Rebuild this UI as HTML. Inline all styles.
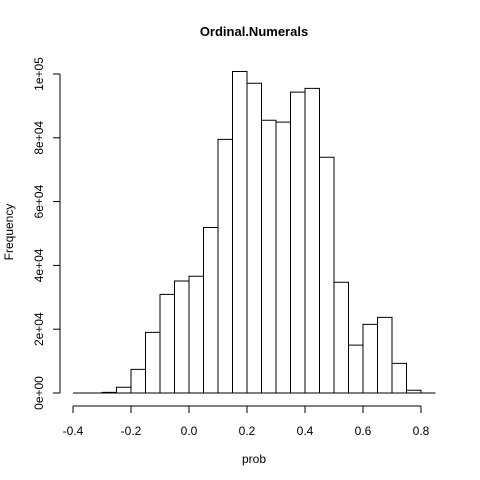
<!DOCTYPE html>
<html><head><meta charset="utf-8"><style>body{margin:0;background:#fff}svg{display:block;font-family:"Liberation Sans",sans-serif}</style></head>
<body>
<svg id="chart" width="480" height="480" viewBox="0 0 480 480">
<rect width="480" height="480" fill="#fff"/>
<text x="254" y="36" text-anchor="middle" font-weight="bold" font-size="13">Ordinal.Numerals</text>
<text x="254" y="463" text-anchor="middle" font-size="12">prob</text>
<text transform="translate(13,232) rotate(-90)" text-anchor="middle" font-size="12">Frequency</text>
<g id="bars"></g><g id="xaxis"></g><g id="yaxis"></g>
</svg>
<script>
const binStarts=[-0.40,-0.35,-0.30,-0.25,-0.20,-0.15,-0.10,-0.05,0.00,0.05,0.10,0.15,0.20,0.25,0.30,0.35,0.40,0.45,0.50,0.55,0.60,0.65,0.70,0.75,0.80];
const counts=[0,0,200,1800,7400,19000,30900,35100,36600,51900,79500,100800,97100,85500,84900,94300,95500,73900,34700,15000,21500,23700,9300,850,0];
const binWidth=0.05;
const xTicks=[-0.4,-0.2,0.0,0.2,0.4,0.6,0.8];
const xTickLabels=["-0.4","-0.2","0.0","0.2","0.4","0.6","0.8"];
const yTicks=[0,20000,40000,60000,80000,100000];
const yTickLabels=["0e+00","2e+04","4e+04","6e+04","8e+04","1e+05"];
const NS="http://www.w3.org/2000/svg";
const x=v=>73+(v+0.4)*290;
const y=v=>393-v*319/100000;
function mk(t,a,p){const e=document.createElementNS(NS,t);for(const k in a)e.setAttribute(k,a[k]);p.appendChild(e);return e;}
const bars=document.getElementById('bars');
binStarts.forEach((b,i)=>{
  const x0=x(b),x1=x(b+binWidth),y0=y(counts[i]);
  const r=mk('path',{d:`M${x0},393V${y0}H${x1}V393Z`,fill:'#fff',stroke:'#000','stroke-width':1},bars);
  
  
});
const xa=document.getElementById('xaxis');

mk('line',{x1:x(xTicks[0]),x2:x(xTicks[xTicks.length-1]),y1:406,y2:406,stroke:'#000'},xa);
xTicks.forEach((t,i)=>{
  mk('line',{x1:x(t),x2:x(t),y1:406,y2:413,stroke:'#000'},xa);
  const tx=mk('text',{x:x(t),y:435,'text-anchor':'middle','font-size':12},xa);
  tx.textContent=xTickLabels[i];
  
  
});
const ya=document.getElementById('yaxis');

mk('line',{x1:60,x2:60,y1:y(yTicks[0]),y2:y(yTicks[yTicks.length-1]),stroke:'#000'},ya);
yTicks.forEach((t,i)=>{
  mk('line',{x1:53,x2:60,y1:y(t),y2:y(t),stroke:'#000'},ya);
  const tx=mk('text',{transform:`translate(43,${y(t)}) rotate(-90)`,'text-anchor':'middle','font-size':12},ya);
  tx.textContent=yTickLabels[i];
  
  
});
</script>
</body></html>
